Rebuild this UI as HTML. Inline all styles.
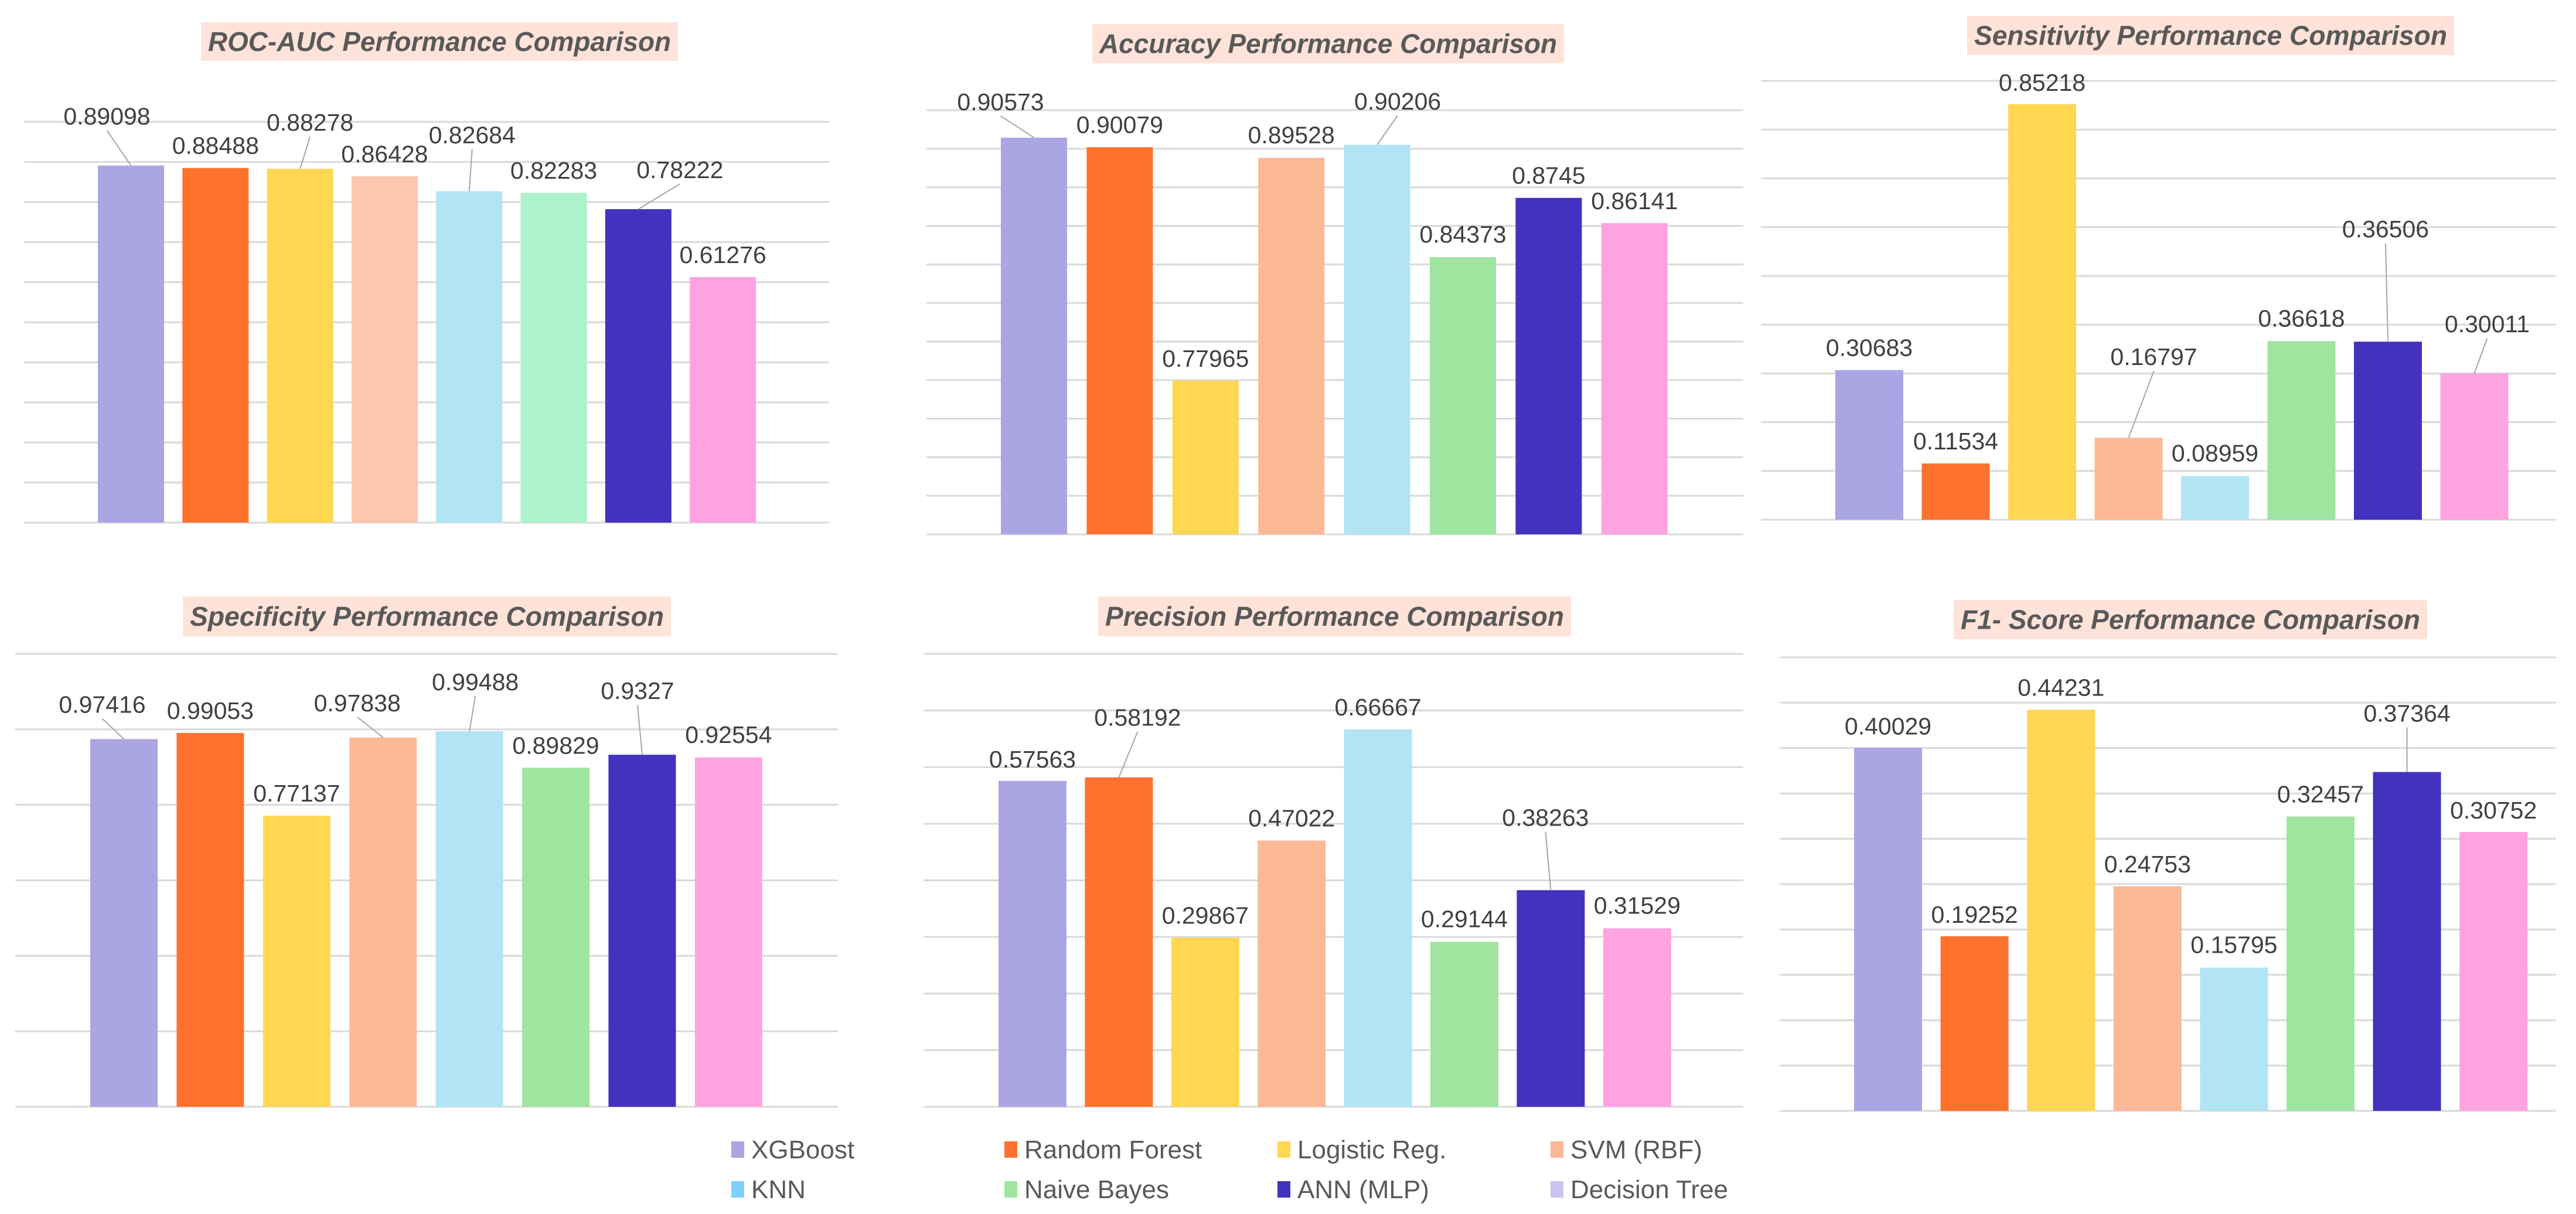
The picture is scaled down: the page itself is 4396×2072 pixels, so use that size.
<!DOCTYPE html>
<html><head><meta charset="utf-8">
<style>
html,body{margin:0;padding:0;background:#fff;}
svg{display:block;font-family:"Liberation Sans",Arial,sans-serif;}
</style></head>
<body>
<svg id="root" width="4396" height="2072" viewBox="0 0 4396 2072" xmlns="http://www.w3.org/2000/svg">
<rect width="4396" height="2072" fill="#fff"/>
</svg>
<script>
const models = ["XGBoost","Random Forest","Logistic Reg.","SVM (RBF)","KNN","Naive Bayes","ANN (MLP)","Decision Tree"];
const rocValues = [0.89098,0.88488,0.88278,0.86428,0.82684,0.82283,0.78222,0.61276];
const accValues = [0.90573,0.90079,0.77965,0.89528,0.90206,0.84373,0.8745,0.86141];
const sensValues = [0.30683,0.11534,0.85218,0.16797,0.08959,0.36618,0.36506,0.30011];
const specValues = [0.97416,0.99053,0.77137,0.97838,0.99488,0.89829,0.9327,0.92554];
const precValues = [0.57563,0.58192,0.29867,0.47022,0.66667,0.29144,0.38263,0.31529];
const f1Values = [0.40029,0.19252,0.44231,0.24753,0.15795,0.32457,0.37364,0.30752];
const rocLabels = ["0.89098","0.88488","0.88278","0.86428","0.82684","0.82283","0.78222","0.61276"];
const accLabels = ["0.90573","0.90079","0.77965","0.89528","0.90206","0.84373","0.8745","0.86141"];
const sensLabels = ["0.30683","0.11534","0.85218","0.16797","0.08959","0.36618","0.36506","0.30011"];
const specLabels = ["0.97416","0.99053","0.77137","0.97838","0.99488","0.89829","0.9327","0.92554"];
const precLabels = ["0.57563","0.58192","0.29867","0.47022","0.66667","0.29144","0.38263","0.31529"];
const f1Labels = ["0.40029","0.19252","0.44231","0.24753","0.15795","0.32457","0.37364","0.30752"];
const rocAxis = [0,1.0,0.1];
const accAxis = [0.70,0.92,0.02];
const sensAxis = [0,0.9,0.1];
const specAxis = [0,1.2,0.2];
const precAxis = [0,0.8,0.1];
const f1Axis = [0,0.5,0.05];

const NS="http://www.w3.org/2000/svg";
const root=document.getElementById('root');
function mk(tag,attrs,parent){const e=document.createElementNS(NS,tag);for(const k in attrs)e.setAttribute(k,attrs[k]);(parent||root).appendChild(e);return e;}

const colorsMain=["#ABA5E4","#FF722E","#FFD750","#FDB895","#B2E4F4","#9FE5A0","#4232BE","#FFA3E1"];
const colorsRoc=["#ABA5E4","#FF722E","#FFD750","#FDC7AE","#B2E4F4","#AEF2CA","#4232BE","#FFA3E1"];

const charts=[
 {key:"roc",title:"ROC-AUC Performance Comparison",vals:rocValues,labels:rocLabels,axis:rocAxis,colors:colorsRoc,
  gx0:41,gx1:1415,top:208,base:892,bx:167,pitch:144.3,bw:113,tb:[343,38,1157,104],
  off:[[-41,-84],[0,-38],[17,-79],[0,-38],[5,-96],[0,-38],[71,-67],[0,-38]]},
 {key:"accuracy",title:"Accuracy Performance Comparison",vals:accValues,labels:accLabels,axis:accAxis,colors:colorsMain,
  gx0:1581,gx1:2975,top:188,base:912,bx:1708,pitch:146.4,bw:113,tb:[1864,41,2669,108],
  off:[[-57,-61],[0,-38],[0,-38],[0,-39],[35,-74],[0,-39],[0,-38],[0,-38]]},
 {key:"sensitivity",title:"Sensitivity Performance Comparison",vals:sensValues,labels:sensLabels,axis:sensAxis,colors:colorsMain,
  gx0:3005,gx1:4362,top:138,base:887,bx:3132,pitch:147.5,bw:116,tb:[3357,27,4188,94],
  off:[[0,-38],[0,-38],[0,-37],[43,-138],[0,-39],[0,-39],[-4,-192],[22,-84]]},
 {key:"specificity",title:"Specificity Performance Comparison",vals:specValues,labels:specLabels,axis:specAxis,colors:colorsMain,
  gx0:26,gx1:1430,top:1116,base:1889,bx:154,pitch:147.4,bw:115,tb:[312,1018,1145,1086],
  off:[[-37,-59],[0,-38],[0,-38],[-44,-59],[10,-84],[0,-38],[-8,-109],[0,-39]]},
 {key:"precision",title:"Precision Performance Comparison",vals:precValues,labels:precLabels,axis:precAxis,colors:colorsMain,
  gx0:1576,gx1:2975,top:1116,base:1889,bx:1704,pitch:147.4,bw:116,tb:[1874,1018,2681,1086],
  off:[[0,-37],[32,-102],[0,-38],[0,-38],[0,-38],[0,-39],[-9,-124],[0,-39]]},
 {key:"f1",title:"F1- Score Performance Comparison",vals:f1Values,labels:f1Labels,axis:f1Axis,colors:colorsMain,
  gx0:3037,gx1:4362,top:1122,base:1896,bx:3164,pitch:147.6,bw:116,tb:[3334,1024,4142,1091],
  off:[[0,-37],[0,-37],[0,-38],[0,-38],[0,-39],[0,-38],[0,-100],[0,-37]]}
];

charts.forEach(c=>{
  const g=mk('g',{});
  
  
  const [amin,amax,step]=c.axis;
  const y=v=>c.base-(v-amin)/(amax-amin)*(c.base-c.top);
  const n=Math.round((amax-amin)/step);
  for(let i=0;i<=n;i++){
    const yy=y(amin+i*step);
    const l=mk('line',{x1:c.gx0,x2:c.gx1,y1:yy,y2:yy,stroke:"#D9D9D9","stroke-width":3},g);
    
    
  }
  const tb=c.tb;
  const tr=mk('rect',{x:tb[0],y:tb[1],width:tb[2]-tb[0],height:tb[3]-tb[1],fill:"#FFE3D9"},g);
  
  
  const tt=mk('text',{x:(tb[0]+tb[2])/2,y:(tb[1]+tb[3])/2+16,"text-anchor":"middle","font-size":46,"font-weight":"bold","font-style":"italic",fill:"#595959",textLength:tb[2]-tb[0]-24,lengthAdjust:"spacingAndGlyphs"},g);
  tt.textContent=c.title;
  
  
  c.vals.forEach((v,i)=>{
    const x=c.bx+i*c.pitch;
    const yt=y(v);
    const r=mk('rect',{x:x,y:yt,width:c.bw,height:c.base-yt,fill:c.colors[i]},g);
    
    
    const cx=x+c.bw/2;
    const [dx,dy]=c.off[i];
    const lx=cx+dx, ly=yt+dy;
    if(Math.abs(dy)>50||Math.abs(dx)>20){
      const ll=mk('line',{x1:lx,y1:ly+24,x2:cx,y2:yt,stroke:"#A6A6A6","stroke-width":2},g);
      
      
    }
    const t=mk('text',{x:lx,y:ly+14,"text-anchor":"middle","font-size":41,fill:"#404040"},g);
    t.textContent=c.labels[i];
    
    
  });
});

const legendColors=["#ABA5E4","#FF722E","#FFD750","#FDB895","#7FCFFF","#9FE5A0","#4232BE","#C9C5EE"];
const lg=mk('g',{});


models.forEach((m,i)=>{
  const col=i%4,row=Math.floor(i/4);
  const x=1248+col*466, yc=1962+row*68;
  const e=mk('g',{},lg);
  
  
  mk('rect',{x:x,y:yc-14,width:22,height:28,fill:legendColors[i]},e);
  const t=mk('text',{x:x+34,y:yc+15,"font-size":44,fill:"#595959"},e);
  t.textContent=m;
});
</script>
</body></html>
